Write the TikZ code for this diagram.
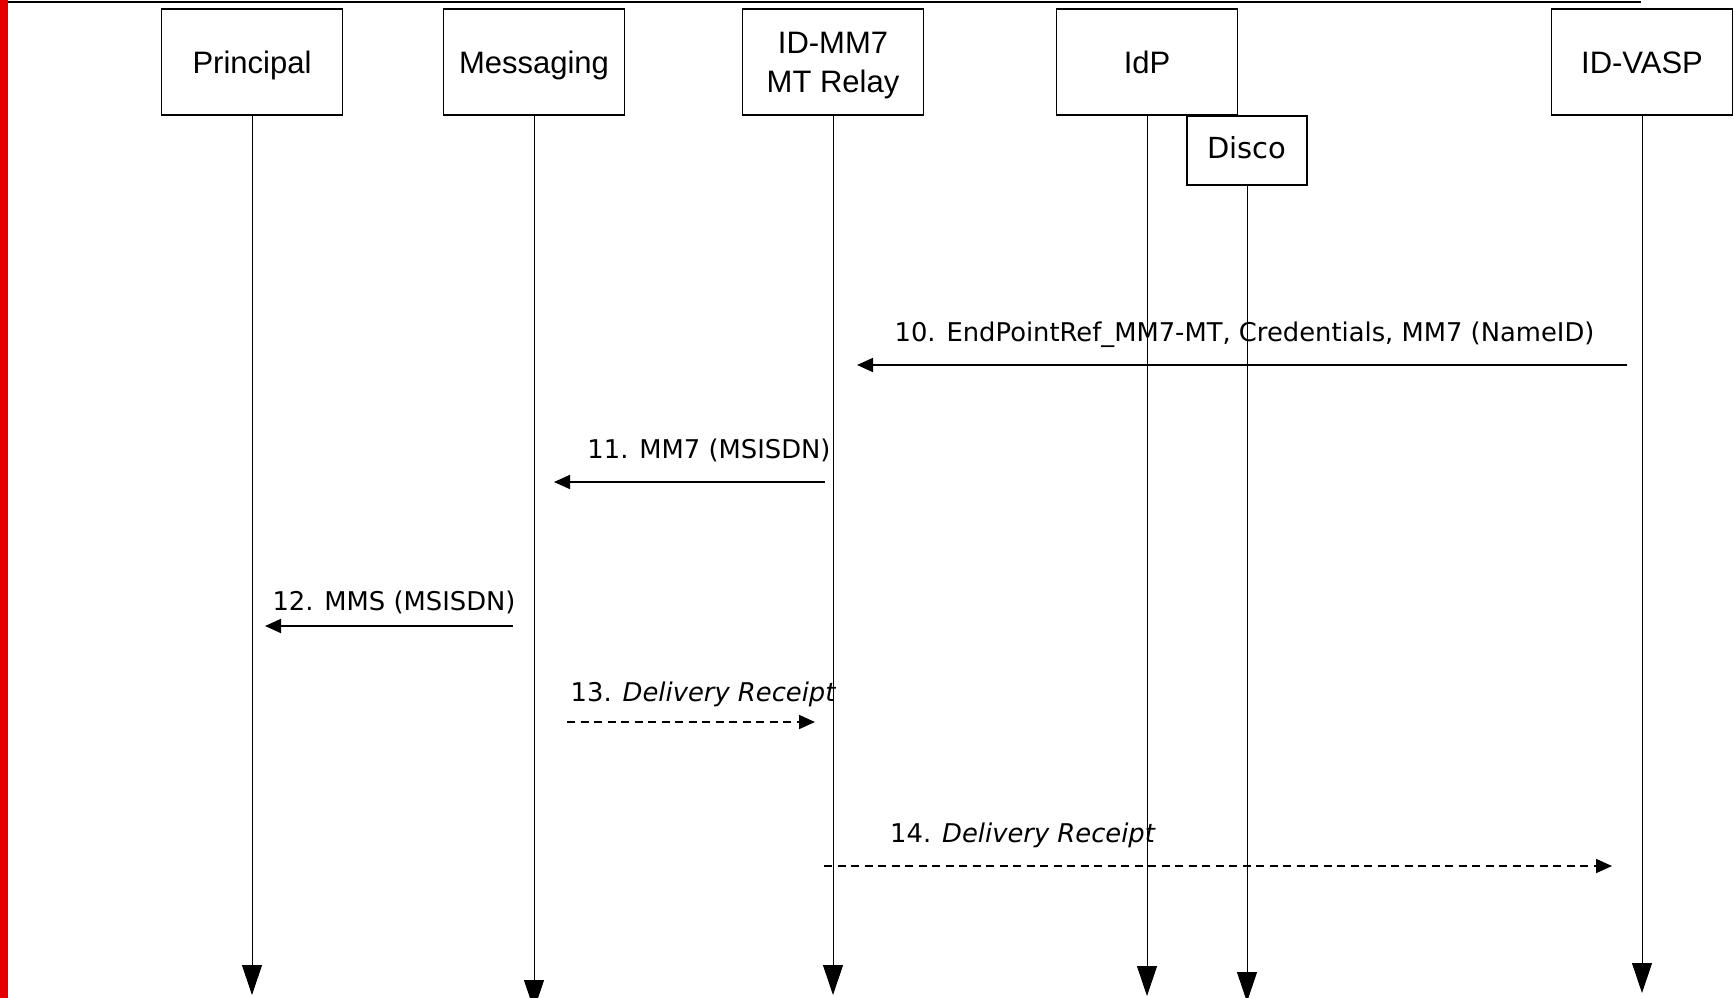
\documentclass[tikz,border=0pt]{standalone}
\usepackage{fontspec}
\setmainfont{Liberation Sans}
\newfontfamily\msgfont{DejaVu Sans}
\usetikzlibrary{arrows.meta}
\definecolor{redbar}{RGB}{228,0,0}
\begin{document}
\begin{tikzpicture}[x=1pt,y=-1pt,
  actor/.style={draw, line width=1.6pt, minimum width=181pt, minimum height=106pt, inner sep=0pt, font=\fontsize{31}{39}\selectfont, align=center, text depth=0pt},
  oneline/.style={text height=24pt},
  discobox/.style={draw, line width=2.2pt, minimum width=120pt, minimum height=69pt, inner sep=0pt, font=\msgfont\fontsize{29}{34}\selectfont, text height=22pt, text depth=7pt},
  lifeline/.style={line width=1pt, -{Triangle[length=30pt,width=20pt]}},
  msg/.style={line width=1.8pt, -{Triangle[length=16pt,width=14pt]}},
  reply/.style={msg, dash pattern=on 8pt off 5.5pt},
  lbl/.style={font=\msgfont\fontsize{25.8}{30}\selectfont, anchor=base, inner sep=0pt}
]
\useasboundingbox (0,0) rectangle (1734,998);
\fill[white] (0,0) rectangle (1734,998);
\fill[redbar] (0,0) rectangle (8,998);
\draw[line width=2pt] (8,2) -- (1641,2);

% actors
\node[actor, oneline] (principal) at (252,62) {Principal};
\node[actor, oneline] (messaging) at (534,62) {Messaging};
\node[actor] (relay) at (833,62) {ID-MM7\\MT Relay};
\node[actor, oneline] (idp) at (1147,62) {IdP};
\node[actor, oneline] (vasp) at (1642,62) {ID-VASP};
\node[discobox] (disco) at (1247,150.5) {Disco};

% lifeline ends
\coordinate (principal-end) at (252,995);
\coordinate (messaging-end) at (534,1010);
\coordinate (relay-end) at (833,995);
\coordinate (idp-end) at (1147,996);
\coordinate (disco-end) at (1247,1002);
\coordinate (vasp-end) at (1642,993);

\draw[lifeline] (principal.south) -- (principal-end);
\draw[lifeline] (messaging.south) -- (messaging-end);
\draw[lifeline] (relay.south) -- (relay-end);
\draw[lifeline] (idp.south) -- (idp-end);
\draw[lifeline] (disco.south) -- (disco-end);
\draw[lifeline] (vasp.south) -- (vasp-end);

% message end points
\coordinate (m10a) at (1627,365);
\coordinate (m10b) at (857,365);
\coordinate (m11a) at (825,482);
\coordinate (m11b) at (554,482);
\coordinate (m12a) at (513,626);
\coordinate (m12b) at (265,626);
\coordinate (m13a) at (567,722);
\coordinate (m13b) at (815,722);
\coordinate (m14a) at (824,866);
\coordinate (m14b) at (1612,866);

\draw[msg] (m10a) -- (m10b);
\draw[msg] (m11a) -- (m11b);
\draw[msg] (m12a) -- (m12b);
\draw[reply] (m13a) -- (m13b);
\draw[reply] (m14a) -- (m14b);

% labels
\node[lbl] (l10) at (1244.5,341) {10. EndPointRef\_MM7-MT, Credentials, MM7 (NameID)};
\node[lbl] (l11) at (709,458) {11. MM7 (MSISDN)};
\node[lbl] (l12) at (394,610) {12. MMS (MSISDN)};
\node[lbl] (l13) at (703.5,701) {13. \textit{Delivery Receipt}};
\node[lbl] (l14) at (1023,842) {14. \textit{Delivery Receipt}};
\end{tikzpicture}
\end{document}
